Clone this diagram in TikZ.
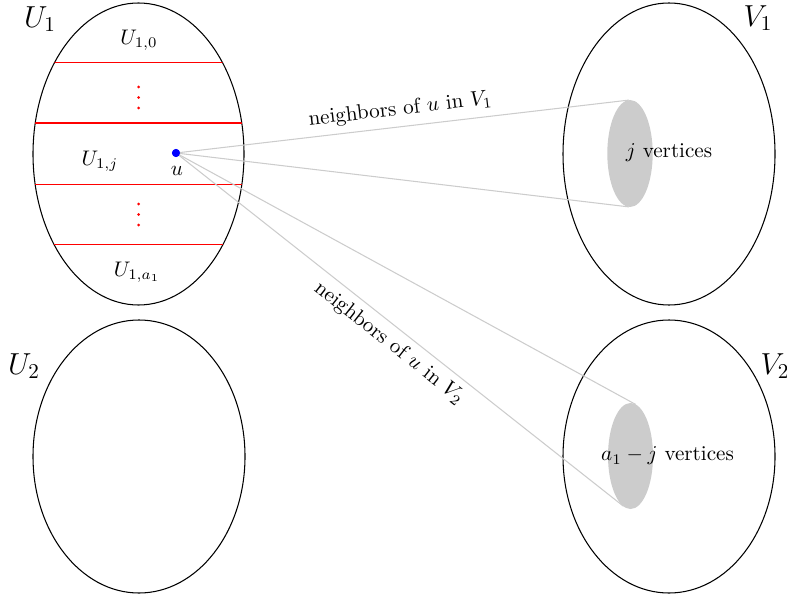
\documentclass[tikz,border=0pt]{standalone}
\begin{document}
\begin{tikzpicture}[x=0.474pt,y=-0.474pt,
  setline/.style={draw=black, line width=0.5pt},
  part/.style={draw=red, line width=0.5pt},
  nbr/.style={draw=black!20, line width=0.5pt},
  shade/.style={fill=black!20},
  setlabel/.style={font=\Large, inner sep=0pt},
  plain/.style={inner sep=0pt},
  vdot/.style={circle, fill=blue, inner sep=0pt, minimum size=3.8pt},
]
\useasboundingbox (0,0) rectangle (787,598);
% big sets
\draw[setline] (138.5,154) ellipse [x radius=105.5, y radius=151];
\draw[setline] (139,456.5) ellipse [x radius=106, y radius=136.5];
\draw[setline] (669,154) ellipse [x radius=106, y radius=151];
\draw[setline] (669,456.5) ellipse [x radius=106, y radius=136.5];
% partition of U1
\begin{scope}
\clip (138.5,154) ellipse [x radius=105.5, y radius=151];
\draw[part] (0,62.5) -- (300,62.5);
\draw[part] (0,123) -- (300,123);
\draw[part] (0,184.5) -- (300,184.5);
\draw[part] (0,244.5) -- (300,244.5);
\end{scope}
\foreach \yy in {87,97.5,108,204,214.5,225} \fill[red] (138.5,\yy) circle [radius=1.5];
% vertex u
\node[vdot] (u) at (176,153) {};
\node[plain] (ulab) at (177,171) {$u$};
% tangent points
\coordinate (t1) at (628.8,100.1);
\coordinate (t2) at (628.8,206.9);
\coordinate (t3) at (635.6,404.4);
\coordinate (t4) at (623.4,506.2);
\draw[nbr] (u.center) -- node[midway, above, sloped] {neighbors of $u$ in $V_1$} (t1);
\draw[nbr] (u.center) -- (t2);
\draw[nbr] (u.center) -- (t3);
\draw[nbr] (u.center) -- node[midway, below, sloped] {neighbors of $u$ in $V_2$} (t4);
\node[vdot] at (u) {};
% neighbor sets
\fill[shade] (630,153.5) ellipse [x radius=22.7, y radius=53.5];
\fill[shade] (630.5,456) ellipse [x radius=22.5, y radius=53];
\node[plain] (jv) at (669,153) {$j$ vertices};
\node[plain] (av) at (667.5,456) {$a_1-j$ vertices};
% part labels
\node[plain] (p0) at (139,40) {$U_{1,0}$};
\node[plain] (pj) at (100,161) {$U_{1,j}$};
\node[plain] (pa) at (137,272) {$U_{1,a_1}$};
% set labels
\node[setlabel] (U1l) at (40,19) {$U_1$};
\node[setlabel] (U2l) at (24,366) {$U_2$};
\node[setlabel] (V1l) at (758,18) {$V_1$};
\node[setlabel] (V2l) at (775,366) {$V_2$};
\end{tikzpicture}
\end{document}
